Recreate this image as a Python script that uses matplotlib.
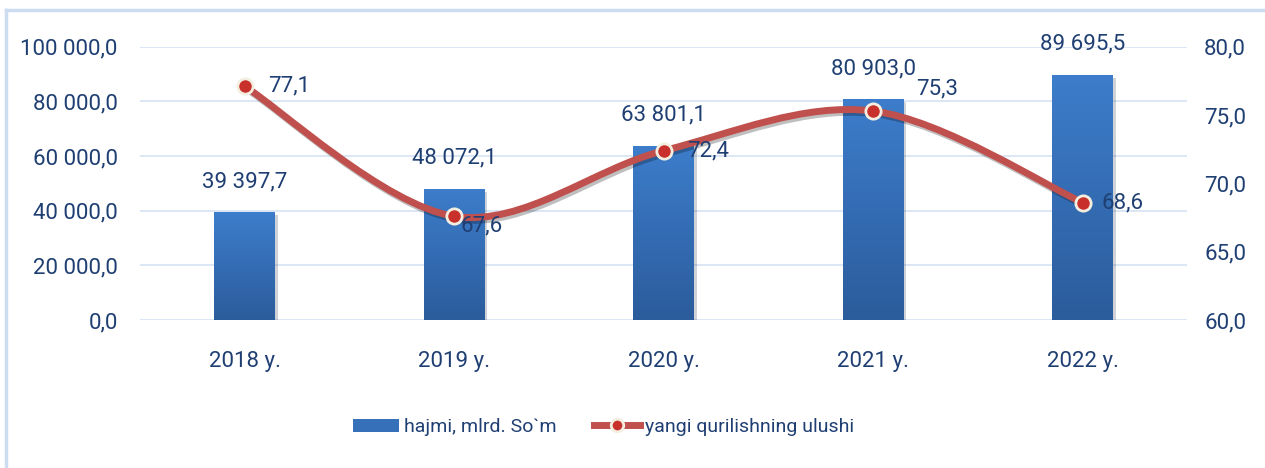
import numpy as np
import matplotlib.pyplot as plt
from matplotlib.path import Path
from matplotlib.patches import PathPatch, Rectangle
from matplotlib.colors import LinearSegmentedColormap
import matplotlib.patheffects as pe
from matplotlib.lines import Line2D

plt.rcParams['font.family'] = ['Roboto', 'DejaVu Sans']

years = ["2018 y.", "2019 y.", "2020 y.", "2021 y.", "2022 y."]
volume = [39397.7, 48072.1, 63801.1, 80903.0, 89695.5]
share = [77.1, 67.6, 72.4, 75.3, 68.6]
vol_labels = ["39 397,7", "48 072,1", "63 801,1", "80 903,0", "89 695,5"]
share_labels = ["77,1", "67,6", "72,4", "75,3", "68,6"]

txt = '#1F3F73'
red = '#C0504D'
fs = 16

fig = plt.figure(figsize=(12.65, 4.68), dpi=100)
# outer frame (only top and left edges are visible in the original)
fig.add_artist(Line2D([0.005, 1.0], [0.978, 0.978], color='#CCDCF1', linewidth=2.5))
fig.add_artist(Line2D([0.005, 0.005], [0.0, 0.978], color='#CCDCF1', linewidth=2.5))

ax = fig.add_axes([0.1107, 0.316, 0.828, 0.584])
ax2 = ax.twinx()

x = np.arange(len(years))
bw = 0.29

# bars with vertical gradient
grad = np.linspace(0, 1, 256).reshape(-1, 1)
cmap = LinearSegmentedColormap.from_list('b', ['#2B5C9C', '#3D7DCB'])
bars = ax.bar(x, volume, width=bw, color='#3570B8', zorder=2)
for b in bars:
    b.set_path_effects([pe.SimplePatchShadow(offset=(2, -2), alpha=0.2), pe.Normal()])
    im = ax.imshow(grad, cmap=cmap, aspect='auto', origin='lower', zorder=2.1,
                   extent=[b.get_x(), b.get_x() + b.get_width(), 0, b.get_height()])
    im.set_clip_path(b)
ax.set_xlim(-0.5, len(years) - 0.5)
ax.set_ylim(0, 100000)
ax2.set_ylim(60, 80)

for xi, v, lab in zip(x, volume, vol_labels):
    ax.annotate(lab, (xi, v), xytext=(0, 22), textcoords='offset points', ha='center',
                va='center', fontsize=fs, color=txt, zorder=5)

# smooth line (bezier through the points, like Excel's smoothed line)
pts = np.column_stack([x, share]).astype(float)
verts = [pts[0]]
codes = [Path.MOVETO]
n = len(pts)
for i in range(n - 1):
    p0 = pts[i - 1] if i > 0 else pts[i]
    p1 = pts[i]
    p2 = pts[i + 1]
    p3 = pts[i + 2] if i + 2 < n else pts[i + 1]
    c1 = p1 + (p2 - p0) / 6
    c2 = p2 - (p3 - p1) / 6
    verts += [c1, c2, p2]
    codes += [Path.CURVE4] * 3
curve = PathPatch(Path(verts, codes), facecolor='none', edgecolor=red, linewidth=5,
                  capstyle='butt', zorder=3,
                  path_effects=[pe.SimpleLineShadow(offset=(1.5, -2), alpha=0.25), pe.Normal()])
ax2.add_patch(curve)
ax2.plot(x, share, linestyle='none', marker='o', markersize=11, markerfacecolor='#C8302C',
         markeredgecolor='#F4EEE0', markeredgewidth=2, zorder=4)
offsets = [(32, 0), (20, -7), (32, 0), (46, 16), (29, 0)]
for xi, s, lab, off in zip(x, share, share_labels, offsets):
    ax2.annotate(lab, (xi, s), xytext=off, textcoords='offset points', ha='center',
                 va='center', fontsize=fs, color=txt, zorder=5)

ax.set_zorder(ax2.get_zorder() - 1)
ax.patch.set_visible(False)
ax2.patch.set_visible(False)

yt = np.arange(0, 100001, 20000)
ax.set_yticks(yt)
ax.set_yticklabels(['{:,.1f}'.format(t).replace(',', ' ').replace('.', ',') for t in yt])
yt2 = np.arange(60, 81, 5)
ax2.set_yticks(yt2)
ax2.set_yticklabels(['{:.1f}'.format(t).replace('.', ',') for t in yt2])
ax.set_xticks(x)
ax.set_xticklabels(years)
ax.grid(axis='y', color='#D6E3F3', linewidth=1.2, zorder=0)
ax.set_axisbelow(True)
for a in (ax, ax2):
    for sp in a.spines.values():
        sp.set_visible(False)
    a.tick_params(length=0, labelsize=fs, labelcolor=txt)
ax.tick_params(axis='y', pad=16)
ax2.tick_params(axis='y', pad=12)
ax.tick_params(axis='x', pad=22)

handles = [Rectangle((0, 0), 1, 1, facecolor='#3570B8'),
           Line2D([], [], color=red, linewidth=5, marker='o', markersize=9,
                  markerfacecolor='#C8302C', markeredgecolor='#F4EEE0', markeredgewidth=2)]
fig.legend(handles, ['hajmi, mlrd. So`m', 'yangi qurilishning ulushi'], loc='center',
           bbox_to_anchor=(0.477, 0.087), ncol=2, frameon=False, fontsize=14,
           labelcolor=txt, handlelength=2.4, handleheight=0.7, handletextpad=0.25,
           columnspacing=1.9)

fig.savefig('out.png', dpi=100)
